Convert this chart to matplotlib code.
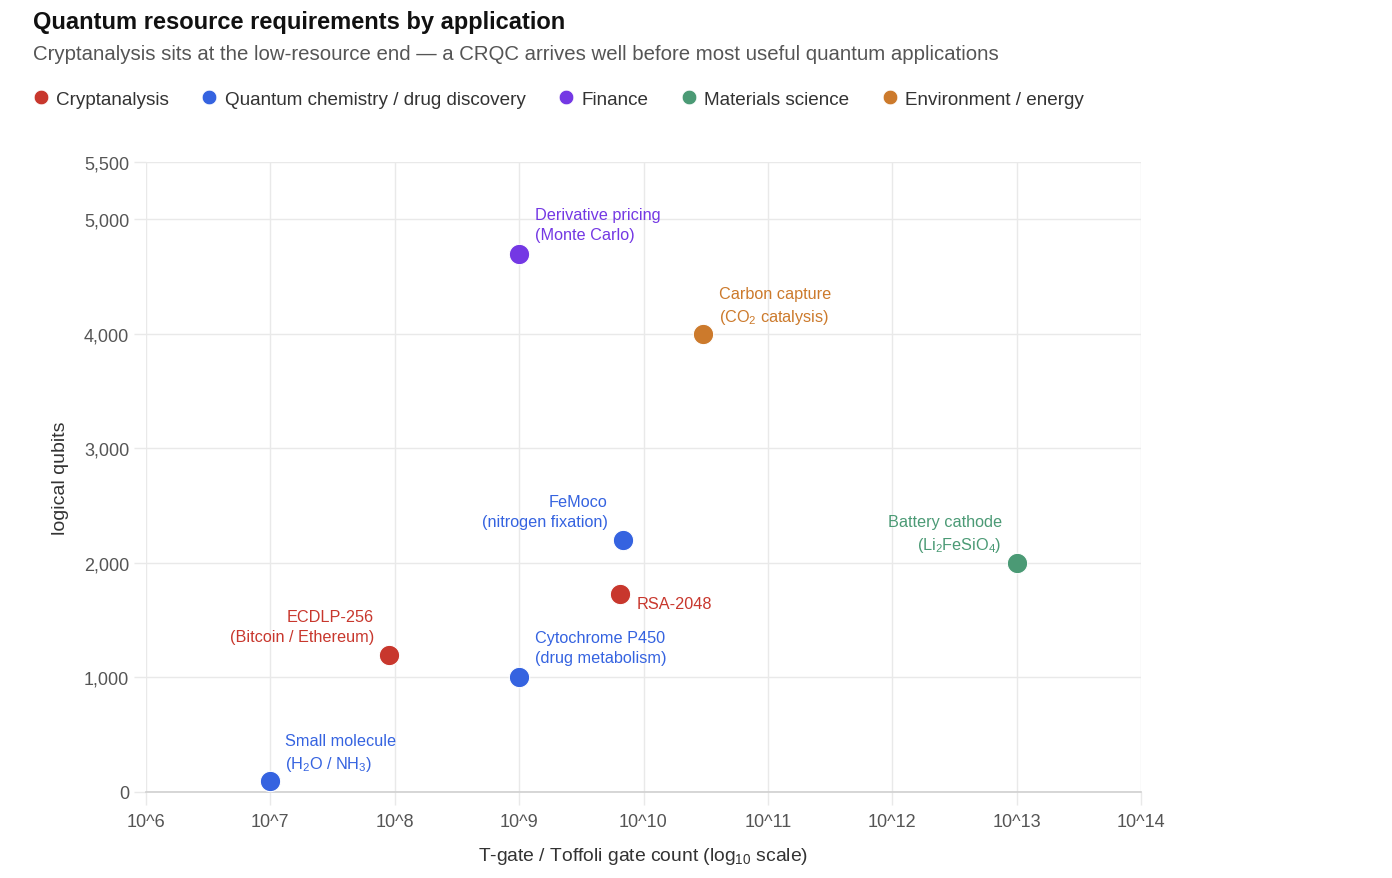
import numpy as np
import matplotlib
matplotlib.use("Agg")
import matplotlib.pyplot as plt
from matplotlib.lines import Line2D

plt.rcParams["font.family"] = ["Liberation Sans", "DejaVu Sans"]
plt.rcParams["mathtext.fontset"] = "custom"
plt.rcParams["mathtext.rm"] = "Liberation Sans"

# ── Data ─────────────────────────────────────────────────────────────────────
categories = ["Cryptanalysis", "Quantum chemistry / drug discovery", "Finance",
              "Materials science", "Environment / energy"]
cat_colors = ["#c8372d", "#3563e0", "#7438e4", "#4b9a75", "#cc7a2c"]

apps = ["Small molecule\n(H$_2$O / NH$_3$)",
        "ECDLP-256\n(Bitcoin / Ethereum)",
        "Cytochrome P450\n(drug metabolism)",
        "RSA-2048",
        "FeMoco\n(nitrogen fixation)",
        "Derivative pricing\n(Monte Carlo)",
        "Carbon capture\n(CO$_2$ catalysis)",
        "Battery cathode\n(Li$_2$FeSiO$_4$)"]
app_cat = [1, 0, 1, 0, 1, 2, 4, 3]
gate_count = [1e7, 9e7, 1e9, 6.5e9, 6.8e9, 1e9, 3e10, 1e13]
logical_qubits = [100, 1200, 1000, 1730, 2200, 4700, 4000, 2000]

x_ticks = [1e6, 1e7, 1e8, 1e9, 1e10, 1e11, 1e12, 1e13, 1e14]
x_labels = ["10^6", "10^7", "10^8", "10^9", "10^10", "10^11", "10^12", "10^13", "10^14"]
y_ticks = [0, 1000, 2000, 3000, 4000, 5000, 5500]

# label placement: (dx px, dy px, ha, va)
label_pos = [(15, 8, "left", "bottom"),
             (-15, 11, "right", "bottom"),
             (16, 12, "left", "bottom"),
             (16, -10, "left", "center"),
             (-15, 11, "right", "bottom"),
             (16, 12, "left", "bottom"),
             (16, 8, "left", "bottom"),
             (-15, 9, "right", "bottom")]

# ── Plot ─────────────────────────────────────────────────────────────────────
fig = plt.figure(figsize=(13.92, 8.79), dpi=100)
ax = fig.add_axes([146/1392, 1 - 793/879, (1141-146)/1392, (793-163)/879])

GRID = "#e9e9e9"
for i, (x, y) in enumerate(zip(gate_count, logical_qubits)):
    c = cat_colors[app_cat[i]]
    ax.scatter(x, y, s=215, color=c, edgecolor="white", linewidth=0.8, zorder=3)
    dx, dy, ha, va = label_pos[i]
    ax.annotate(apps[i], (x, y), xytext=(dx, dy), textcoords="offset pixels",
                ha=ha, va=va, multialignment=ha,
                color=c, fontsize=11.7, linespacing=1.42)

ax.set_xscale("log")
ax.set_xlim(1e6, 1e14)
ax.set_ylim(0, 5500)
ax.set_xticks(x_ticks)
ax.set_xticklabels(x_labels)
ax.minorticks_off()
ax.set_yticks(y_ticks)
ax.set_yticklabels([f"{v:,}" for v in y_ticks])

ax.grid(True, color=GRID, linewidth=1)
ax.set_axisbelow(True)
for s in ["top", "right", "left"]:
    ax.spines[s].set_visible(False)
ax.spines["bottom"].set_color("#cfcfcf")
ax.spines["bottom"].set_linewidth(1.2)
ax.tick_params(axis="both", colors=GRID, labelcolor="#555555", labelsize=13,
               length=9, width=1)
ax.tick_params(axis="x", pad=6)
ax.tick_params(axis="y", pad=3)

ax.set_xlabel("T-gate / Toffoli gate count (log$_{10}$ scale)", fontsize=13.9,
              color="#333333", labelpad=11)
ax.set_ylabel("logical qubits", fontsize=14, color="#333333", labelpad=11)

fig.text(33/1392, 1 - 23/879, "Quantum resource requirements by application",
         fontsize=17, fontweight="bold", color="#111111", va="center")
fig.text(33/1392, 1 - 54/879,
         "Cryptanalysis sits at the low-resource end \u2014 a CRQC arrives well before most useful quantum applications",
         fontsize=14.7, color="#555555", va="center")

handles = [Line2D([], [], linestyle="none", marker="o", markersize=10.5,
                  markerfacecolor=c, markeredgecolor="white", markeredgewidth=0.5)
           for c in cat_colors]
leg = fig.legend(handles, categories, loc="center left",
                 bbox_to_anchor=(22/1392, 1 - 100/879), ncol=5, frameon=False,
                 fontsize=13.6, handletextpad=0.2, columnspacing=1.55,
                 handlelength=1.2, borderaxespad=0)
for t in leg.get_texts():
    t.set_color("#333333")

fig.savefig("out.png", dpi=100)
